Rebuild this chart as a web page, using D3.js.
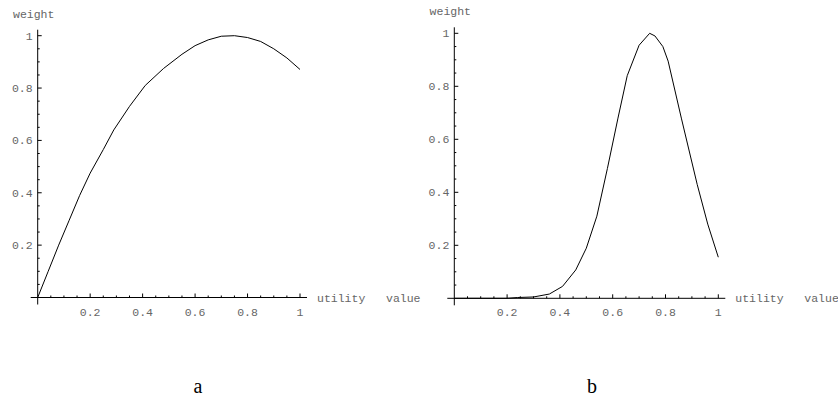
<!DOCTYPE html>
<html>
<head>
<meta charset="utf-8">
<script src="https://cdn.jsdelivr.net/npm/d3@7"></script>
<style>
  body { margin: 0; background: #fff; }
  svg { display: block; }
  .lbl { font-family: "Liberation Mono", "DejaVu Sans Mono", monospace; font-size: 11.5px; fill: #666; white-space: pre; }
  .tag { font-family: "Liberation Serif", "DejaVu Serif", serif; font-size: 20px; fill: #000; }
</style>
</head>
<body>
<svg id="chart" width="838" height="399"></svg>
<script>
// Panel a: utility value -> weight
const utilA = [0, 0.04, 0.08, 0.12, 0.16, 0.2, 0.25, 0.29, 0.35, 0.41, 0.48, 0.55, 0.6, 0.65, 0.7, 0.75, 0.8, 0.85, 0.9, 0.95, 1];
const weightA = [0, 0.1, 0.2, 0.295, 0.39, 0.475, 0.565, 0.64, 0.73, 0.81, 0.875, 0.929, 0.962, 0.984, 0.998, 1.0, 0.993, 0.978, 0.95, 0.915, 0.871];

// Panel b
const utilB = [0, 0.05, 0.1, 0.15, 0.2, 0.24, 0.3, 0.36, 0.41, 0.46, 0.5, 0.54, 0.58, 0.62, 0.655, 0.7, 0.74, 0.76, 0.79, 0.81, 0.86, 0.92, 0.96, 1];
const weightB = [0, 0, 0, 0, 0, 0.003, 0.005, 0.016, 0.045, 0.107, 0.189, 0.31, 0.49, 0.68, 0.84, 0.955, 1.0, 0.99, 0.95, 0.895, 0.68, 0.43, 0.28, 0.155];

const majorTicks = [0.2, 0.4, 0.6, 0.8, 1];
const minorTicks = d3.range(0.05, 1.001, 0.05);
const xTitle = "utility   value";
const yTitle = "weight";
const panelTags = ["a", "b"];

const svg = d3.select("#chart");

function drawPanel(box, us, ws, tag) {
    let x = d3.scaleLinear().domain([0, 1]).range([box.left, box.right]);
    let y = d3.scaleLinear().domain([0, 1]).range([box.bottom, box.top]);
    let g = svg.append("g");

    // axes lines, running a little past the origin
    g.append("line")
        .attr("x1", x(0) - 7).attr("x2", x(1) + 7)
        .attr("y1", y(0)).attr("y2", y(0))
        .attr("stroke", "#000");
    g.append("line")
        .attr("x1", x(0)).attr("x2", x(0))
        .attr("y1", y(0) + 7).attr("y2", y(1) - 6)
        .attr("stroke", "#000");

    // ticks point inward
    let isMajor = t => Math.abs(t * 5 - Math.round(t * 5)) < 1e-6;
    g.selectAll(".xt").data(minorTicks).join("line")
        .attr("x1", d => x(d)).attr("x2", d => x(d))
        .attr("y1", y(0)).attr("y2", d => y(0) - (isMajor(d) ? 4 : 2))
        .attr("stroke", "#000");
    g.selectAll(".yt").data(minorTicks).join("line")
        .attr("y1", d => y(d)).attr("y2", d => y(d))
        .attr("x1", x(0)).attr("x2", d => x(0) + (isMajor(d) ? 4 : 2))
        .attr("stroke", "#000");

    g.selectAll(".xl").data(majorTicks).join("text")
        .attr("class", "lbl")
        .attr("x", d => x(d)).attr("y", y(0) + 18)
        .attr("text-anchor", "middle")
        .text(d => d3.format("")(d));
    g.selectAll(".yl").data(majorTicks).join("text")
        .attr("class", "lbl")
        .attr("x", x(0) - 5).attr("y", d => y(d) + 4)
        .attr("text-anchor", "end")
        .text(d => d3.format("")(d));

    g.append("text").attr("class", "lbl")
        .attr("x", x(1) + 17).attr("y", y(0) + 4)
        .text(xTitle);
    g.append("text").attr("class", "lbl")
        .attr("x", x(0) - 4).attr("y", y(1) - 18)
        .attr("text-anchor", "middle")
        .text(yTitle);

    let pts = us.map((u, i) => [u, ws[i]]);
    g.append("path")
        .datum(pts)
        .attr("fill", "none")
        .attr("stroke", "#000")
        .attr("stroke-width", 1)
        .attr("d", d3.line().x(d => x(d[0])).y(d => y(d[1])));

    g.append("text").attr("class", "tag")
        .attr("x", box.tagX).attr("y", 393)
        .attr("text-anchor", "middle")
        .text(tag);
}

drawPanel({left: 37.7, right: 300, top: 35.7, bottom: 297.5, tagX: 198}, utilA, weightA, panelTags[0]);
drawPanel({left: 454.3, right: 718.3, top: 33.3, bottom: 298.3, tagX: 592}, utilB, weightB, panelTags[1]);
</script>
</body>
</html>
